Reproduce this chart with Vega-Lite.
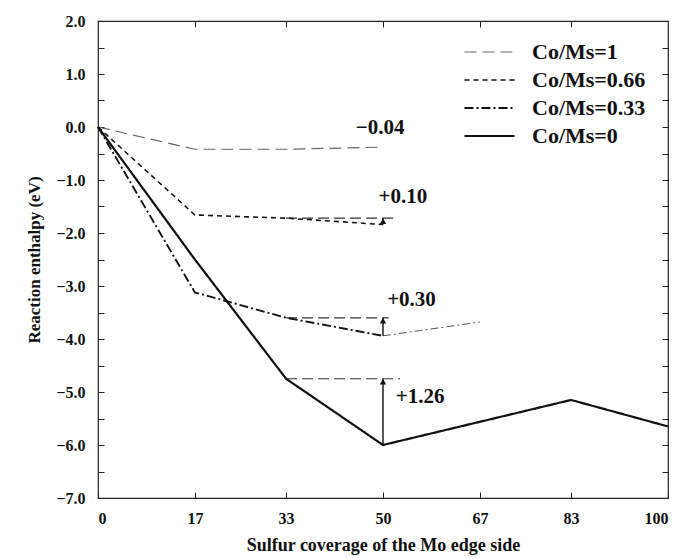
{
  "$schema": "https://vega.github.io/schema/vega-lite/v6.json",
  "width": 570,
  "height": 477,
  "autosize": "none",
  "padding": {"left": 98, "top": 21, "right": 10, "bottom": 61},
  "background": "white",
  "config": {
    "view": {"stroke": "#222", "strokeWidth": 1.2},
    "font": "Liberation Serif",
    "axis": {
      "grid": false,
      "domainColor": "#222",
      "tickColor": "#222",
      "labelColor": "#111",
      "titleColor": "#111",
      "labelFont": "Liberation Serif",
      "titleFont": "Liberation Serif",
      "labelFontWeight": "bold",
      "titleFontWeight": "bold",
      "labelFontSize": 16,
      "tickSize": -6
    }
  },
  "datasets": {
    "curves": [
      {"series": "Co/Ms=1", "x": 0, "y": 0},
      {"series": "Co/Ms=1", "x": 17, "y": -0.42},
      {"series": "Co/Ms=1", "x": 33, "y": -0.42},
      {"series": "Co/Ms=1", "x": 50, "y": -0.38},
      {"series": "Co/Ms=0.66", "x": 0, "y": 0},
      {"series": "Co/Ms=0.66", "x": 17, "y": -1.66},
      {"series": "Co/Ms=0.66", "x": 33, "y": -1.72},
      {"series": "Co/Ms=0.66", "x": 50, "y": -1.84},
      {"series": "Co/Ms=0.33", "x": 0, "y": 0},
      {"series": "Co/Ms=0.33", "x": 17, "y": -3.12},
      {"series": "Co/Ms=0.33", "x": 33, "y": -3.6},
      {"series": "Co/Ms=0.33", "x": 50, "y": -3.94},
      {"series": "Co/Ms=0", "x": 0, "y": 0},
      {"series": "Co/Ms=0", "x": 17, "y": -2.5},
      {"series": "Co/Ms=0", "x": 33, "y": -4.75},
      {"series": "Co/Ms=0", "x": 50, "y": -6.0},
      {"series": "Co/Ms=0", "x": 83, "y": -5.15},
      {"series": "Co/Ms=0", "x": 100, "y": -5.65}
    ],
    "refs": [
      {"x": 33, "x2": 52.5, "y": -1.72},
      {"x": 33, "x2": 51, "y": -3.6},
      {"x": 33, "x2": 53, "y": -4.75}
    ],
    "extension": [
      {"x": 50, "x2": 67, "y": -3.94, "y2": -3.68}
    ],
    "arrows": [
      {"x": 50, "y": -1.84, "y2": -1.72},
      {"x": 50, "y": -3.94, "y2": -3.6},
      {"x": 50, "y": -6.0, "y2": -4.75}
    ],
    "labels": [
      {"x": 49.5, "y": -0.02, "text": "−0.04"},
      {"x": 53.5, "y": -1.32, "text": "+0.10"},
      {"x": 55, "y": -3.26, "text": "+0.30"},
      {"x": 56.5, "y": -5.1, "text": "+1.26"}
    ]
  },
  "resolve": {"axis": {"x": "independent", "y": "independent"}},
  "layer": [
    {
      "data": {"name": "refs"},
      "mark": {"type": "rule", "strokeDash": [11, 5], "strokeWidth": 1.2, "color": "#333"},
      "encoding": {
        "x": {"field": "x", "type": "quantitative", "scale": {"domain": [0, 100], "nice": false, "zero": false},
              "axis": {"orient": "top", "values": [17, 33, 50, 67, 83], "labels": false, "domain": false, "title": null}},
        "x2": {"field": "x2"},
        "y": {"field": "y", "type": "quantitative", "scale": {"domain": [-7, 2], "nice": false, "zero": false},
              "axis": {"orient": "right", "values": [-6.5, -6, -5.5, -5, -4.5, -4, -3.5, -3, -2.5, -2, -1.5, -1, -0.5, 0, 0.5, 1, 1.5], "labels": false, "domain": false, "title": null}}
      }
    },
    {
      "data": {"name": "extension"},
      "mark": {"type": "rule", "strokeDash": [8, 3, 2, 3], "strokeWidth": 1, "color": "#555"},
      "encoding": {
        "x": {"field": "x", "type": "quantitative", "axis": null},
        "x2": {"field": "x2"},
        "y": {"field": "y", "type": "quantitative", "axis": null},
        "y2": {"field": "y2"}
      }
    },
    {
      "data": {"name": "curves"},
      "mark": {"type": "line"},
      "encoding": {
        "x": {"field": "x", "type": "quantitative",
              "axis": {"orient": "bottom", "values": [0, 17, 33, 50, 67, 83, 100], "format": "d", "domain": false,
                       "title": "Sulfur coverage of the Mo edge side", "titleFontSize": 18, "labelPadding": 18, "titlePadding": 10}},
        "y": {"field": "y", "type": "quantitative",
              "axis": {"orient": "left", "values": [-7, -6.5, -6, -5.5, -5, -4.5, -4, -3.5, -3, -2.5, -2, -1.5, -1, -0.5, 0, 0.5, 1, 1.5, 2],
                       "labelExpr": "datum.value % 1 === 0 ? format(datum.value, '.1f') : ''", "domain": false,
                       "title": "Reaction enthalpy (eV)", "titleFontSize": 17, "labelPadding": 19, "titlePadding": 12}},
        "color": {"field": "series", "type": "nominal",
                  "scale": {"domain": ["Co/Ms=1", "Co/Ms=0.66", "Co/Ms=0.33", "Co/Ms=0"], "range": ["#666666", "#111111", "#111111", "#111111"]},
                  "legend": {"title": null, "orient": "none", "legendX": 365, "legendY": 18,
                             "symbolType": "stroke", "symbolSize": 2500, "labelFontSize": 22, "labelFontWeight": "bold",
                             "labelFont": "Liberation Serif", "labelColor": "#111", "labelOffset": 16, "rowPadding": 2, "clipHeight": 26}},
        "strokeDash": {"field": "series", "type": "nominal",
                       "scale": {"domain": ["Co/Ms=1", "Co/Ms=0.66", "Co/Ms=0.33", "Co/Ms=0"], "range": [[12, 6], [5, 4], [9, 3, 2, 3], [1, 0]]}},
        "strokeWidth": {"field": "series", "type": "nominal",
                        "scale": {"domain": ["Co/Ms=1", "Co/Ms=0.66", "Co/Ms=0.33", "Co/Ms=0"], "range": [1.2, 2.2, 2.2, 2.2]}}
      }
    },
    {
      "data": {"name": "arrows"},
      "mark": {"type": "rule", "strokeWidth": 1.4, "color": "#111"},
      "encoding": {
        "x": {"field": "x", "type": "quantitative", "axis": null},
        "y": {"field": "y", "type": "quantitative", "axis": null},
        "y2": {"field": "y2"}
      }
    },
    {
      "data": {"name": "arrows"},
      "mark": {"type": "point", "shape": "triangle-up", "filled": true, "size": 40, "color": "#111", "opacity": 1, "yOffset": 3},
      "encoding": {
        "x": {"field": "x", "type": "quantitative", "axis": null},
        "y": {"field": "y2", "type": "quantitative", "axis": null}
      }
    },
    {
      "data": {"name": "labels"},
      "mark": {"type": "text", "font": "Liberation Serif", "fontWeight": "bold", "fontSize": 21, "color": "#111", "align": "center", "baseline": "middle"},
      "encoding": {
        "x": {"field": "x", "type": "quantitative", "axis": null},
        "y": {"field": "y", "type": "quantitative", "axis": null},
        "text": {"field": "text"}
      }
    }
  ]
}
